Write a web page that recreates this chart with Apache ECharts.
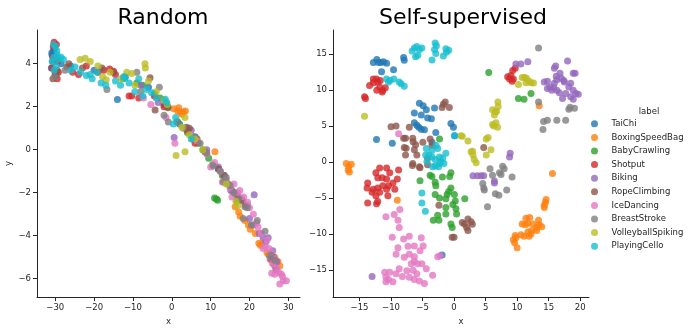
<!DOCTYPE html>
<html>
<head>
    <meta charset="utf-8">
    <title>Random vs Self-supervised</title>
    <script src="https://cdn.jsdelivr.net/npm/echarts@6.0.0/dist/echarts.min.js"></script>
    <style>
        body { margin: 0; background: #fff; }
        #chart { width: 698px; height: 331px; }
    </style>
</head>
<body>
    <div id="chart"></div>

    <script>
        // categories in legend order
        var labels = ['TaiChi', 'BoxingSpeedBag', 'BabyCrawling', 'Shotput', 'Biking',
                      'RopeClimbing', 'IceDancing', 'BreastStroke', 'VolleyballSpiking', 'PlayingCello'];
        var colors = ['#1f77b4', '#ff7f0e', '#2ca02c', '#d62728', '#9467bd',
                      '#8c564b', '#e377c2', '#7f7f7f', '#bcbd22', '#17becf'];

        // tick labels
        var randomXTicks = [-30, -20, -10, 0, 10, 20, 30];
        var randomYTicks = [-6, -4, -2, 0, 2, 4];
        var selfXTicks = [-15, -10, -5, 0, 5, 10, 15, 20];
        var selfYTicks = [-15, -10, -5, 0, 5, 10, 15];

        // left panel: random init embedding
        var randomTaiChi = [[-30.5,4.6],[-30.8,4.4],[-30.2,4.7],[-31,3.8],[-30.6,4.1],[-29.8,3.5],[-29.5,4.3],[-30.9,4.5],[-28.5,4.0],[-26,3.9],[-20,3.7],[-14,2.33],[-12,3.4],[-6,2.9],[-2,2.1],[2,1.2],[6,0.6],[12,-0.9],[17,-2.2],[25,-4.9]];
        var randomBoxing = [[0.5,1.9],[1.5,1.8],[2.2,1.75],[3.0,1.75],[2.6,1.65],[3.5,1.8],[1.8,1.95],[11.1,-0.1],[16.3,-2.65],[17.2,-2.9],[17.6,-3.1],[18.8,-3.3],[19.7,-3.5],[20.2,-3.7],[21.5,-3.9],[22.4,-4.35],[22.8,-4.45],[23.2,-4.4],[24.5,-4.8],[25.3,-5.1],[26.5,-5.0],[27.3,-5.2],[27.8,-5.4],[26.0,-5.3]];
        var randomBaby = [[11.0,-2.25],[11.5,-2.3],[11.8,-2.35],[-4.5,2.6],[-3.0,2.4],[-1.0,2.0],[1.5,1.3],[4.0,0.8],[5.5,0.5],[6.8,0.3],[8.0,0.0],[9.5,-0.4],[10.5,-0.7],[13.0,-1.2],[14.5,-1.6],[15.5,-1.9],[16.8,-2.4],[-9,3.1],[-7.5,3.0],[-12.5,3.3]];
        var randomShotput = [[-30.3,5.0],[-29.7,4.9],[-30.5,4.8],[-30,3.5],[-29.5,3.3],[-30.8,3.8],[-29.2,3.6],[-30.6,4.3],[-29.5,4.1],[-25.5,3.6],[-24,3.5],[-22,3.9],[-19,3.6],[-17.5,3.7],[-16,3.75],[-15,3.65],[-14.5,3.5],[-11,2.5],[-10.3,2.5],[-8.5,2.4],[-4.5,2.5],[-2,2.0],[4,0.9],[6,0.3],[16.5,-2.1],[19,-2.6]];
        var randomBiking = [[-8,3.0],[-3.5,2.2],[0.6,0.57],[5,0.9],[9,0.0],[12,-0.8],[13.5,-1.2],[14,-1.5],[15.2,-1.9],[16.5,-2.0],[18.0,-2.3],[19.5,-2.6],[21.2,-2.1],[20,-3.2],[21,-3.5],[22.5,-3.9],[23.5,-4.1],[24.2,-4.3],[25.5,-5.1],[26.5,-5.4],[27.0,-5.2],[26.0,-4.7],[24.8,-4.1]];
        var randomRope = [[-30.6,3.3],[-30.0,3.5],[-29.5,3.7],[-27,3.85],[-26.5,4.0],[-23,3.8],[-18,3.8],[-15,3.6],[-5.6,3.35],[-4.3,1.85],[-1,1.95],[3.8,1.05],[4.5,1.0],[6.5,0.5],[8.5,-0.1],[12.0,-0.9],[13.5,-1.2],[17.5,-2.3],[18.3,-2.4],[26.8,-5.6],[26.2,-5.0]];
        var randomIce = [[-7.3,2.4],[-5.4,2.1],[-1.5,1.5],[0.8,0.3],[6.5,0.4],[11,-0.6],[12.5,-1.0],[14,-1.4],[15,-1.8],[16,-1.6],[17,-2.0],[17.5,-1.9],[18.5,-2.2],[19.5,-2.45],[20,-2.7],[21.0,-3.0],[21.8,-3.4],[22.2,-3.6],[23,-3.9],[23.5,-4.6],[24,-4.5],[24.5,-4.2],[25,-4.6],[25.5,-4.8],[26.0,-5.3],[26.5,-5.05],[27,-5.5],[25.7,-5.75],[26.5,-5.8],[27.5,-5.7],[28.2,-5.8],[28.7,-6.1],[29.5,-6.1],[27.8,-6.25],[28.5,-5.9],[9,-0.2],[10,-0.8],[13,-1.5],[15.5,-2.2]];
        var randomBreast = [[-30,3.4],[-27.5,3.7],[-16.7,2.8],[-9.0,3.6],[-8,2.7],[-3.2,2.9],[-2.0,1.6],[-0.9,1.29],[1.3,1.3],[3,1.0],[5.5,0.6],[7.3,0.3],[9.0,-0.15],[10.7,-0.76],[12.5,-1.0],[13.3,-1.5],[14,-1.3],[15.0,-1.67],[16.0,-2.0],[17.2,-2.3],[18.4,-3.2],[18.8,-2.65],[19.4,-2.7],[22,-3.3],[24.0,-3.8],[25.5,-4.9],[26.5,-5.15],[20.5,-3.5]];
        var randomVolley = [[-23.6,4.2],[-22.3,4.25],[-21,4.1],[-19,3.9],[-17.8,3.4],[-16.9,3.25],[-15.9,3.6],[-11.6,3.6],[-10.3,3.55],[-9.5,3.0],[-6.9,4.0],[-6.8,3.8],[-6,3.2],[-4,2.7],[-2,2.3],[-1.2,2.1],[1.1,-0.27],[3.4,-0.1],[3.4,1.5],[2.6,1.05],[4.5,0.7],[6,0.5],[8,0.0],[14.0,-1.6],[16.5,-2.4],[17.0,-2.6],[-13,3.3]];
        var randomCello = [[-30.4,4.9],[-30.0,4.8],[-29.6,4.6],[-30.4,4.3],[-29.5,4.4],[-30.8,4.1],[-29.8,3.9],[-30.3,3.7],[-29.2,4.2],[-28.5,4.3],[-27.9,4.2],[-26,3.7],[-24.9,3.85],[-23.5,3.6],[-22,3.45],[-21,3.5],[-20.5,3.3],[-19.2,3.6],[-18.2,3.1],[-17,3.0],[-14.5,3.2],[-13.2,3.0],[-12.4,3.4],[-12,3.35],[-11,3.1],[-9.5,2.7],[-7.5,2.5],[-5.2,2.65],[-4,2.4],[-1.7,2.35],[-1.3,2.2],[0.4,1.2],[1,1.5],[5,0.5],[-8.5,3.3],[-6.5,2.8]];

        // right panel: self-supervised embedding
        var selfTaiChi = [[-12.8,13.8],[-12.25,14.2],[-11.6,13.8],[-11.2,13.9],[-10.7,13.7],[-11.5,12.5],[-9.6,12.8],[-8.0,14.5],[-7.9,14.1],[-12.0,13.8],[-5.5,8.15],[-4.9,7.8],[-6.3,6.8],[-4.4,7.25],[-3.1,7.5],[-5.2,6.5],[-4.2,6.1],[-3.6,6.0],[-6.3,5.45],[-5.9,5.1],[-5.6,4.8],[-5.2,4.55],[-4.7,4.45],[-2.9,4.1],[-0.5,5.35],[-0.1,4.8],[0.1,3.65],[-12.3,3.1],[-9.8,2.6],[-3.5,2.75],[-1.9,-12.9]];
        var selfBoxing = [[-17.1,-0.2],[-16.7,-0.6],[-16.3,-0.3],[-16.8,-1.1],[-16.6,-1.4],[-9.0,-5.3],[13.5,7.8],[15.6,-1.6],[9.8,-10.5],[9.4,-10.8],[9.6,-11.2],[10.0,-11.9],[10.8,-8.6],[11.4,-7.8],[12.0,-7.7],[11.7,-8.5],[12.5,-8.6],[11.3,-8.7],[10.6,-10.1],[11.1,-10.3],[11.9,-10.3],[12.2,-10.0],[11.7,-9.7],[13.1,-9.1],[13.5,-8.7],[13.9,-9.0],[13.4,-8.1],[13.1,-9.5],[14.3,-6.0],[14.5,-5.6],[14.6,-5.2],[14.3,-6.3],[9.7,-10.2],[12.3,-9.5]];
        var selfBaby = [[5.5,12.4],[-2.3,3.2],[10.2,8.8],[11.1,8.7],[12.2,9.5],[-5.4,-2.6],[-3.8,-1.85],[-3.5,-2.0],[-3.0,-2.8],[-2.9,-3.3],[-1.85,-2.1],[-0.5,-1.5],[-0.7,-2.0],[-3.0,-4.5],[-2.3,-5.0],[-0.85,-4.1],[-0.5,-3.6],[0.05,-4.5],[0.2,-5.4],[-0.2,-5.9],[0.3,-6.5],[0.4,-7.2],[-1.3,-6.3],[-1.3,-7.2],[-2.6,-7.4],[-3.3,-8.1],[-2.4,-8.1],[-0.5,-8.6],[-0.3,-9.1],[1.7,-5.1],[-1.1,-4.5],[-1.3,-5.1]];
        var selfShotput = [[-14.2,9.05],[-14.05,8.8],[-13.4,10.6],[-12.8,11.5],[-12.3,11.5],[-12.1,11.1],[-12.8,11.0],[-11.8,10.4],[-12.25,9.95],[-11.3,9.95],[-10.9,10.3],[-11.4,9.7],[-11.7,11.3],[9.0,12.0],[9.3,12.7],[9.7,13.0],[8.8,11.5],[9.4,11.5],[9.2,11.2],[8.5,11.8],[-13.7,-2.9],[-12.8,-3.8],[-12.1,-3.6],[-11.3,-3.3],[-10.4,-3.3],[-9.7,-2.9],[-9.0,-2.35],[-10.7,-2.35],[-12.1,-2.2],[-13.8,-3.6],[-13.0,-4.2],[-12.4,-4.7],[-11.8,-4.2],[-10.7,-3.8],[-9.4,-3.8],[-10.5,-4.7],[-13.7,-5.7],[-12.3,-5.8],[-12.1,-5.5],[-11.8,-0.85],[-10.7,-0.85],[-8.8,-1.1],[-10.2,-1.5],[-12.4,-1.5],[-11.4,-2.2]];
        var selfBiking = [[9.8,13.6],[10.6,13.6],[11.7,13.9],[14.3,11.1],[14.8,10.2],[15.2,10.4],[15.5,9.95],[15.9,10.9],[16.3,11.4],[15.9,13.0],[16.1,13.3],[16.8,12.3],[17.0,11.6],[17.5,11.1],[18.0,14.0],[18.2,10.4],[18.5,10.9],[18.9,12.3],[19.2,12.3],[18.9,9.95],[18.5,9.05],[17.7,9.5],[17.2,8.8],[19.3,9.5],[19.7,9.4],[18.9,8.7],[16.3,9.95],[16.7,9.6],[15.8,10.3],[14.8,11.2],[16.2,11.9],[17.4,11.3],[3.0,-1.9],[3.7,-1.9],[4.3,-1.9],[4.7,-1.9],[8.9,1.2],[8.8,0.7],[6.4,-2.65],[6.4,-2.9],[-13.0,-15.9]];
        var selfRope = [[-10.0,4.9],[-9.2,5.0],[-7.1,4.8],[-8.0,3.3],[-7.7,3.3],[-7.9,2.0],[-7.6,1.9],[-6.55,3.3],[-6.1,2.4],[-6.5,2.8],[-6.3,1.7],[-5.9,0.95],[-7.7,0.95],[-6.55,-0.2],[-5.5,-0.65],[-4.2,0.5],[-3.8,3.2],[-3.5,2.3],[-4.95,2.75],[-4.2,-0.4],[-6.6,-0.5],[-5.4,-0.8],[-1.7,8.0],[-1.4,8.3],[-0.75,7.55],[-1.9,7.55],[-2.4,-6.0],[-0.3,-10.45],[0.0,-10.45],[1.3,-8.4],[1.65,-8.6],[2.2,-7.9],[2.7,-8.3],[2.9,-8.65],[2.0,-9.1],[2.2,-9.5],[4.7,2.0]];
        var selfIce = [[-8.8,3.9],[-10.8,-7.6],[-9.5,-7.3],[-8.6,-6.6],[-8.9,-8.1],[-8.7,-9.1],[-9.8,-10.45],[-8.0,-10.7],[-7.1,-10.3],[-7.3,-11.7],[-8.9,-11.9],[-9.2,-12.8],[-6.3,-11.65],[-7.1,-12.8],[-7.9,-13.2],[-6.3,-13.15],[-5.2,-10.5],[-4.9,-11.65],[-5.4,-12.3],[-6.3,-13.8],[-6.8,-14.1],[-5.8,-14.1],[-5.1,-14.1],[-4.4,-14.8],[-7.5,-15.1],[-8.7,-14.8],[-9.2,-15.5],[-10.2,-15.3],[-11.0,-15.3],[-10.8,-16.0],[-10.8,-16.6],[-9.7,-16.6],[-8.2,-15.9],[-7.1,-16.0],[-6.3,-16.3],[-5.5,-16.5],[-4.7,-16.85],[-5.9,-15.5],[-6.5,-15.0],[-3.4,-15.7],[-2.6,-13.15],[-2.2,-13.0],[-10.4,-16.3]];
        var selfBreast = [[13.4,15.8],[14.2,5.6],[14.8,5.8],[16.3,5.8],[17.7,5.8],[18.2,7.3],[18.4,7.6],[19.1,7.45],[14.1,4.5],[13.4,8.3],[5.7,-0.95],[7.7,-0.6],[7.95,-0.95],[7.45,-1.75],[6.1,-1.85],[9.2,-2.1],[4.55,-3.0],[4.8,-3.9],[6.55,-4.4],[7.1,-4.6],[8.35,-3.9],[5.3,-6.2],[4.7,-3.6],[7.2,-1.5]];
        var selfVolley = [[-14.2,6.35],[10.2,10.75],[11.15,11.75],[11.5,11.6],[11.9,11.2],[12.6,10.95],[12.2,11.0],[11.4,11.0],[10.8,11.7],[6.95,8.3],[7.0,7.7],[6.55,7.0],[6.1,7.25],[6.4,6.5],[6.75,7.0],[6.1,5.2],[6.65,5.45],[6.9,4.8],[6.3,5.0],[5.1,3.2],[5.4,3.4],[5.85,1.7],[5.1,0.95],[1.1,3.65],[2.2,2.9],[2.7,1.4],[3.0,0.95],[3.5,-0.1],[2.95,1.5],[3.2,0.35],[1.3,3.55]];
        var selfCello = [[-6.3,15.8],[-5.9,16.0],[-5.5,15.6],[-5.1,15.8],[-6.65,15.4],[-6.1,14.6],[-5.75,14.8],[-3.0,16.5],[-2.8,16.1],[-3.1,15.6],[-2.9,15.05],[-3.5,14.15],[-1.7,14.7],[-1.3,15.7],[-0.85,15.5],[-1.2,15.2],[-10.7,11.5],[-10.15,11.3],[-10.4,11.1],[-9.55,11.5],[-8.7,11.1],[-8.4,10.85],[-7.9,10.5],[0.05,3.65],[-4.4,1.85],[-3.5,1.6],[-2.85,2.3],[-2.6,1.85],[-4.5,0.95],[-4.0,0.95],[-3.5,0.7],[-3.0,0.35],[-2.3,0.7],[-1.8,0.5],[-1.3,1.2],[-2.1,0.05],[-3.0,-0.55],[-2.45,-0.65],[-3.4,-0.65],[-4.3,0.05],[-2.3,-0.2],[-1.6,-0.2],[-5.1,-4.3],[-5.1,-5.7],[-4.55,-6.85]];

        var randomData = [randomTaiChi, randomBoxing, randomBaby, randomShotput, randomBiking,
                          randomRope, randomIce, randomBreast, randomVolley, randomCello];
        var selfData = [selfTaiChi, selfBoxing, selfBaby, selfShotput, selfBiking,
                        selfRope, selfIce, selfBreast, selfVolley, selfCello];

        var FONT = 'DejaVu Sans';
        var INK = '#262626';
        var SMALL = 8.5;

        // matplotlib style minus sign
        function fmt(v) {
            return v < 0 ? '\u2212' + (-v) : String(v);
        }

        function xAxisOf(grid, min, max, ticks) {
            return {
                gridIndex: grid, type: 'value', min: min, max: max,
                name: 'x', nameLocation: 'middle', nameGap: 17,
                nameTextStyle: { fontFamily: FONT, fontSize: SMALL, color: INK },
                axisLine: { onZero: false, lineStyle: { color: INK, width: 1 } },
                axisTick: { length: 4, customValues: ticks, lineStyle: { color: INK } },
                axisLabel: { customValues: ticks, formatter: fmt, fontFamily: FONT, fontSize: SMALL, color: INK, margin: 6 },
                splitLine: { show: false }
            };
        }

        function yAxisOf(grid, min, max, ticks, name) {
            return {
                gridIndex: grid, type: 'value', min: min, max: max,
                name: name, nameLocation: 'middle', nameGap: 24,
                nameTextStyle: { fontFamily: FONT, fontSize: SMALL, color: INK },
                axisLine: { show: true, onZero: false, lineStyle: { color: INK, width: 1 } },
                axisTick: { show: true, length: 4, customValues: ticks, lineStyle: { color: INK } },
                axisLabel: { customValues: ticks, formatter: fmt, fontFamily: FONT, fontSize: SMALL, color: INK, margin: 6 },
                splitLine: { show: false }
            };
        }

        var series = [];
        labels.forEach(function (name, i) {
            series.push({
                name: name, type: 'scatter', xAxisIndex: 0, yAxisIndex: 0,
                data: randomData[i], symbolSize: 7,
                itemStyle: { color: colors[i], opacity: 0.8 }
            });
        });
        labels.forEach(function (name, i) {
            series.push({
                name: name, type: 'scatter', xAxisIndex: 1, yAxisIndex: 1,
                data: selfData[i], symbolSize: 7,
                itemStyle: { color: colors[i], opacity: 0.8 }
            });
        });

        var chart = echarts.init(document.getElementById('chart'));
        var option = {
            backgroundColor: '#fff',
            animation: false,
            title: [
                { text: 'Random', left: 163, top: 7, textAlign: 'center', padding: 0,
                  textStyle: { fontFamily: FONT, fontSize: 22, fontWeight: 'normal', color: '#000' } },
                { text: 'Self-supervised', left: 463, top: 7, textAlign: 'center', padding: 0,
                  textStyle: { fontFamily: FONT, fontSize: 22, fontWeight: 'normal', color: '#000' } },
                { text: 'label', left: 649, top: 107, textAlign: 'center', padding: 0,
                  textStyle: { fontFamily: FONT, fontSize: SMALL, fontWeight: 'normal', color: INK } }
            ],
            legend: {
                data: labels, orient: 'vertical', left: 591, top: 118,
                icon: 'circle', itemWidth: 24, itemHeight: 7, itemGap: 2, padding: 0,
                textStyle: { fontFamily: FONT, fontSize: SMALL, color: INK, lineHeight: 11.6 }
            },
            grid: [
                { left: 37, top: 30, width: 263, height: 274 },
                { left: 333, top: 30, width: 256, height: 274 }
            ],
            xAxis: [
                xAxisOf(0, -34.7, 33, randomXTicks),
                xAxisOf(1, -19.2, 21.4, selfXTicks)
            ],
            yAxis: [
                yAxisOf(0, -6.86, 5.57, randomYTicks, 'y'),
                yAxisOf(1, -18.74, 18.3, selfYTicks, '')
            ],
            series: series
        };
        chart.setOption(option);
    </script>
</body>
</html>
